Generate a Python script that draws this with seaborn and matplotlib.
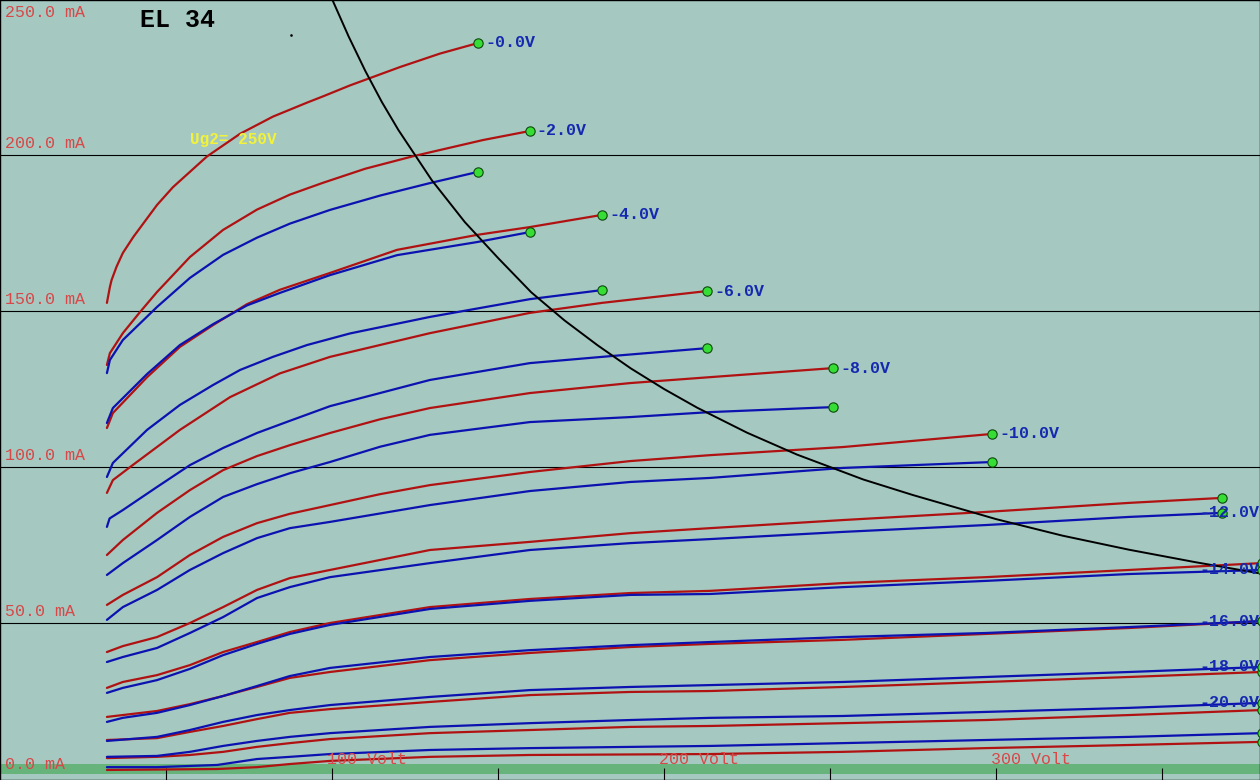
import numpy as np
import pandas as pd
import matplotlib
matplotlib.use("Agg")
import matplotlib.pyplot as plt
import seaborn as sns

# EL34 anode curves, Ug2 = 250 V (Va in volts, Ia in mA)
grids = [0, -2, -4, -6, -8, -10, -12, -14, -16, -18, -20, -22]

red_va = {
    0: [32.2, 33.1, 33.6, 35.1, 37.0, 40.2, 47.3, 52.1, 62.3, 72.3, 82.2, 92.5, 97.3, 105.4, 120.5, 132.5, 144.0],
    -2: [32.2, 33.1, 37.0, 42.2, 47.3, 57.2, 67.2, 77.4, 87.3, 97.3, 110.0, 124.4, 145.5, 159.6],
    -4: [32.2, 34.0, 44.3, 54.2, 64.2, 74.4, 84.3, 99.4, 119.6, 143.7, 159.6, 181.3],
    -6: [32.2, 34.0, 39.2, 54.2, 69.3, 84.3, 99.4, 129.5, 159.6, 181.3, 213.0],
    -8: [32.2, 37.0, 47.3, 57.2, 67.2, 77.4, 87.3, 99.4, 114.5, 129.5, 159.6, 189.8, 213.9, 250.9],
    -10: [32.2, 37.0, 47.3, 57.2, 67.2, 77.4, 87.3, 99.4, 114.5, 129.5, 159.6, 189.8, 213.9, 253.9, 298.8],
    -12: [32.2, 37.0, 47.3, 57.2, 67.2, 77.4, 87.3, 99.4, 129.5, 159.6, 189.8, 213.9, 253.9, 297.0, 340.1, 368.1],
    -14: [32.2, 37.0, 47.3, 57.2, 67.2, 77.4, 87.3, 99.4, 129.5, 159.6, 189.8, 213.9, 253.9, 297.0, 340.1, 380.0],
    -16: [32.2, 37.0, 47.3, 57.2, 67.2, 77.4, 87.3, 99.4, 129.5, 159.6, 189.8, 213.9, 253.9, 297.0, 340.1, 380.0],
    -18: [32.2, 47.3, 57.2, 67.2, 77.4, 87.3, 99.4, 129.5, 159.6, 189.8, 213.9, 253.9, 297.0, 340.1, 380.0],
    -20: [32.2, 47.3, 57.2, 67.2, 77.4, 87.3, 99.4, 129.5, 159.6, 189.8, 213.9, 253.9, 297.0, 340.1, 380.0],
    -22: [32.2, 65.4, 77.4, 87.3, 99.4, 129.5, 159.6, 213.9, 253.9, 297.0, 340.1, 380.0],
}
red_ia = {
    0: [152.6, 157.7, 159.9, 164.2, 168.6, 173.8, 184.0, 189.7, 199.5, 206.8, 212.3, 216.8, 218.8, 222.3, 228.2, 232.5, 235.9],
    -2: [132.7, 136.5, 142.9, 149.7, 156.1, 167.3, 176.0, 182.5, 187.3, 191.1, 195.6, 199.6, 204.8, 207.7],
    -4: [112.5, 117.3, 128.8, 138.5, 145.5, 152.2, 156.8, 162.2, 169.6, 174.4, 176.9, 180.8],
    -6: [91.7, 95.8, 100.0, 111.9, 122.4, 130.0, 135.3, 142.9, 149.4, 152.6, 156.4],
    -8: [71.8, 76.6, 85.3, 92.6, 99.0, 103.5, 107.0, 110.9, 115.3, 118.9, 123.7, 126.9, 128.8, 131.7],
    -10: [55.8, 59.0, 64.7, 71.8, 77.6, 82.0, 85.0, 87.8, 91.3, 94.2, 98.4, 101.9, 103.8, 106.4, 110.6],
    -12: [40.7, 42.6, 45.5, 50.0, 55.1, 60.6, 64.4, 67.0, 73.4, 76.0, 78.8, 80.4, 83.0, 85.6, 88.5, 90.1],
    -14: [29.2, 31.1, 33.3, 36.5, 40.7, 43.9, 47.1, 50.0, 55.1, 57.7, 59.6, 60.3, 62.8, 64.7, 67.0, 69.2],
    -16: [19.9, 20.5, 21.8, 24.0, 26.6, 29.5, 32.4, 34.3, 38.1, 40.4, 42.3, 43.3, 44.6, 46.5, 48.4, 50.6],
    -18: [12.5, 13.1, 15.1, 17.0, 19.2, 21.2, 22.4, 24.7, 26.9, 27.9, 28.2, 29.5, 31.1, 32.7, 34.3],
    -20: [6.7, 7.1, 7.7, 8.7, 10.3, 11.5, 12.8, 14.7, 15.7, 16.7, 17.0, 17.9, 18.9, 20.5, 22.1],
    -22: [2.9, 3.2, 3.8, 4.8, 5.8, 7.1, 7.7, 8.0, 8.7, 9.9, 10.9, 11.9],
}

blue_va = {
    0: [32.2, 33.1, 37.0, 47.3, 57.2, 67.2, 77.4, 87.3, 99.4, 114.5, 129.5, 144.0],
    -2: [32.2, 34.0, 44.3, 54.2, 64.2, 74.4, 84.3, 99.4, 119.6, 143.7, 159.6],
    -4: [32.2, 34.0, 44.3, 54.2, 64.2, 72.3, 82.2, 92.5, 105.4, 129.5, 159.6, 181.3],
    -6: [32.2, 33.0, 37.0, 47.3, 57.2, 67.2, 77.4, 87.3, 99.4, 129.5, 159.6, 184.6, 213.0],
    -8: [32.2, 37.0, 47.3, 57.2, 67.2, 77.4, 87.3, 99.4, 114.5, 129.5, 159.6, 189.8, 213.9, 250.9],
    -10: [32.2, 37.0, 47.3, 57.2, 67.2, 77.4, 87.3, 99.4, 129.5, 159.6, 189.8, 213.9, 253.9, 298.8],
    -12: [32.2, 37.0, 47.3, 57.2, 67.2, 77.4, 87.3, 99.4, 129.5, 159.6, 189.8, 213.9, 253.9, 297.0, 340.1, 368.1],
    -14: [32.2, 37.0, 47.3, 57.2, 67.2, 77.4, 87.3, 99.4, 129.5, 159.6, 189.8, 213.9, 253.9, 297.0, 340.1, 380.0],
    -16: [32.2, 37.0, 47.3, 57.2, 67.2, 77.4, 87.3, 99.4, 129.5, 159.6, 189.8, 213.9, 253.9, 297.0, 340.1, 380.0],
    -18: [32.2, 47.3, 57.2, 67.2, 77.4, 87.3, 99.4, 129.5, 159.6, 189.8, 213.9, 253.9, 297.0, 340.1, 380.0],
    -20: [32.2, 47.3, 57.2, 67.2, 77.4, 87.3, 99.4, 129.5, 159.6, 189.8, 213.9, 253.9, 297.0, 340.1, 380.0],
    -22: [32.2, 47.3, 65.4, 77.4, 87.3, 99.4, 129.5, 159.6, 213.9, 253.9, 297.0, 340.1, 380.0],
}
blue_ia = {
    0: [130.1, 134.3, 140.7, 151.3, 160.6, 168.0, 173.5, 178.0, 182.4, 187.0, 191.0, 194.6],
    -2: [114.1, 118.9, 129.8, 139.1, 145.8, 151.8, 155.8, 161.5, 167.9, 172.1, 175.3],
    -4: [96.8, 101.3, 111.9, 119.9, 126.3, 131.1, 135.3, 139.1, 142.8, 148.1, 153.8, 156.7],
    -6: [80.8, 83.5, 86.2, 93.6, 100.6, 106.1, 110.9, 114.8, 119.5, 127.9, 133.3, 135.6, 138.1],
    -8: [65.4, 69.2, 76.6, 84.0, 90.4, 94.5, 98.0, 101.6, 106.5, 110.3, 114.4, 116.0, 117.6, 119.2],
    -10: [51.0, 55.1, 60.6, 67.0, 72.4, 77.2, 80.4, 82.4, 87.8, 92.3, 95.2, 96.5, 99.7, 101.6],
    -12: [37.5, 39.1, 42.0, 46.8, 51.9, 58.0, 61.5, 64.7, 69.2, 73.4, 75.6, 76.9, 79.2, 81.4, 84.0, 85.3],
    -14: [27.6, 29.2, 31.7, 35.3, 39.7, 43.3, 46.5, 49.4, 54.5, 57.1, 59.0, 59.3, 61.5, 63.5, 65.7, 67.0],
    -16: [18.3, 19.6, 21.2, 23.7, 26.6, 29.8, 33.0, 35.6, 39.1, 41.3, 42.9, 43.9, 45.5, 46.8, 48.7, 50.6],
    -18: [12.2, 13.5, 15.7, 18.3, 20.5, 22.1, 23.7, 26.3, 28.5, 29.5, 30.1, 31.1, 32.7, 34.3, 35.9],
    -20: [7.1, 7.4, 8.7, 10.6, 12.2, 13.5, 14.7, 16.7, 17.9, 18.9, 19.6, 20.2, 21.5, 22.8, 24.4],
    -22: [3.8, 3.8, 4.5, 6.4, 7.1, 8.0, 9.3, 9.9, 10.6, 11.5, 12.5, 13.5, 14.7],
}

# max. anode dissipation line (25 W)
pmax_va = [100, 105, 110, 115, 120, 125, 130, 140, 150, 160, 170, 180, 190, 200, 210, 225, 240, 250, 260, 275, 300, 320, 340, 360, 380]
pmax_ia = [250, 238, 227, 217, 208, 200, 192, 178.5, 167, 156, 147, 139, 131.6, 125, 119, 111, 104, 100, 96, 91, 83.3, 78, 73.5, 69.5, 65.8]

labelled_grids = [0, -2, -4, -6, -8, -10, -12, -14, -16, -18, -20]
ma_ticks = [0, 50, 100, 150, 200, 250]
volt_ticks = [100, 200, 300]

bg = "#a5c8c1"
red = "#b01212"
blue = "#0c12b0"
axis_red = "#d84848"
label_blue = "#1428b0"
mono = ["Liberation Mono", "DejaVu Sans Mono"]

# long table for seaborn
rows = []
for g in grids:
    for v, i in zip(red_va[g], red_ia[g]):
        rows.append(("red", g, v, i))
    for v, i in zip(blue_va[g], blue_ia[g]):
        rows.append(("blue", g, v, i))
curves = pd.DataFrame(rows, columns=["series", "grid", "Va", "Ia"])

sns.set_theme(style="white")
plt.rcParams["font.family"] = mono

fig = plt.figure(figsize=(12.6, 7.8), dpi=100)
ax = fig.add_axes([0, 0, 1, 1])
ax.set_facecolor(bg)

# green strip at the bottom
ax.axhspan(1.6, 4.8, color="#67b37c", zorder=0.5, lw=0)

sns.lineplot(data=curves, x="Va", y="Ia", hue="series", units="grid",
             estimator=None, sort=False, palette={"red": red, "blue": blue},
             linewidth=1.6, legend=False, ax=ax, zorder=3)

sns.lineplot(x=pmax_va, y=pmax_ia, color="black", linewidth=1.4, ax=ax,
             sort=False, estimator=None, zorder=4)

# end points
ends = curves.sort_values("Va").groupby(["series", "grid"]).tail(1)
ax.scatter(ends["Va"], ends["Ia"], s=45, color="#35dd35", edgecolor="#0d4a0d",
           linewidth=0.8, zorder=5, clip_on=True)

ax.set_xlim(0, 379.5)
ax.set_ylim(-0.32, 249.68)

ax.set_yticks([50, 100, 150, 200])
ax.grid(axis="y", color="black", linewidth=0.8)
ax.grid(axis="x", visible=False)
ax.set_xticks(range(50, 400, 50))
ax.tick_params(axis="x", direction="in", length=9, width=0.8, color="black",
               labelbottom=False, bottom=True)
ax.tick_params(axis="y", left=False, labelleft=False)
ax.set_xlabel("")
ax.set_ylabel("")
for s in ax.spines.values():
    s.set_color("black")
    s.set_linewidth(1.0)

# grid voltage labels
for g in labelled_grids:
    text = f"-{abs(g):.1f}V"
    if red_va[g][-1] < 300:
        ax.annotate(text, (red_va[g][-1], red_ia[g][-1]), xytext=(5, 0),
                    textcoords="offset points", ha="left", va="center",
                    fontsize=12, fontweight="bold", color=label_blue, zorder=6)
    else:
        ax.text(379.3, blue_ia[g][-1], text, ha="right", va="center",
                fontsize=12, fontweight="bold", color=label_blue, zorder=6)

# axis texts
for m in ma_ticks:
    ax.text(1.5, np.clip(m + 3.8, 4.8, 245.8), f"{m:.1f} mA", ha="left", va="center",
            fontsize=12, color=axis_red, zorder=6)
for v in volt_ticks:
    ax.text(v - 1.5, 6.1, f"{v} Volt", ha="left", va="center",
            fontsize=12, color=axis_red, zorder=6)

ax.text(42.2, 243.3, "EL 34", ha="left", va="center", fontsize=18,
        fontweight="bold", color="black")
ax.text(57.2, 205.1, "Ug2= 250V", ha="left", va="center", fontsize=11.5,
        fontweight="bold", color="#f2f23a", zorder=6)
ax.plot([87.7], [238.5], marker="s", markersize=0.8, color="black")

fig.savefig("out.png", dpi=100)
